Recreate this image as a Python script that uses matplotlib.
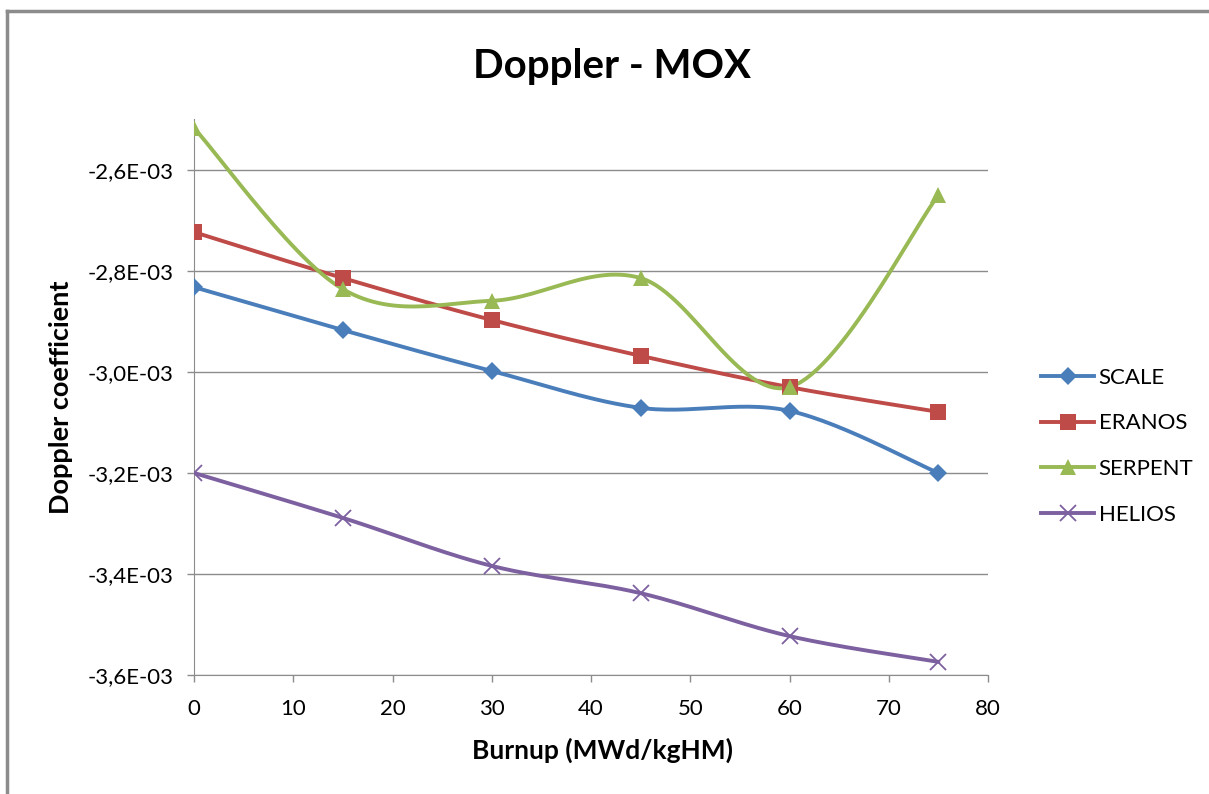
import matplotlib.pyplot as plt
import numpy as np
from matplotlib.lines import Line2D
from matplotlib.ticker import FuncFormatter

plt.rcParams['font.family'] = ['Lato', 'DejaVu Sans']

burnup = [0, 15, 30, 45, 60, 75]
scale = [-2.832e-3, -2.917e-3, -2.998e-3, -3.071e-3, -3.077e-3, -3.200e-3]
eranos = [-2.723e-3, -2.814e-3, -2.897e-3, -2.968e-3, -3.030e-3, -3.079e-3]
serpent = [-2.517e-3, -2.836e-3, -2.859e-3, -2.814e-3, -3.030e-3, -2.650e-3]
helios = [-3.200e-3, -3.289e-3, -3.384e-3, -3.438e-3, -3.523e-3, -3.574e-3]

names = ['SCALE', 'ERANOS', 'SERPENT', 'HELIOS']
colors = ['#4A7EBB', '#BE4B48', '#98B954', '#7D60A0']
markers = ['D', 's', '^', 'x']
msizes = [9.5, 11.5, 11.5, 11.5]


def smooth(x, y, n=30):
    # excel style smoothed line (bezier through the points)
    x = np.asarray(x, float)
    y = np.asarray(y, float)
    px, py = [], []
    m = len(x)
    for i in range(m - 1):
        x0, y0 = (x[i - 1], y[i - 1]) if i > 0 else (x[i], y[i])
        x3, y3 = (x[i + 2], y[i + 2]) if i + 2 < m else (x[i + 1], y[i + 1])
        c1x = x[i] + (x[i + 1] - x0) / 6
        c1y = y[i] + (y[i + 1] - y0) / 6
        c2x = x[i + 1] - (x3 - x[i]) / 6
        c2y = y[i + 1] - (y3 - y[i]) / 6
        t = np.linspace(0, 1, n)
        a = (1 - t) ** 3
        b = 3 * (1 - t) ** 2 * t
        c = 3 * (1 - t) * t ** 2
        d = t ** 3
        px.extend(a * x[i] + b * c1x + c * c2x + d * x[i + 1])
        py.extend(a * y[i] + b * c1y + c * c2y + d * y[i + 1])
    return px, py


fig = plt.figure(figsize=(12.09, 7.94), dpi=100)
ax = fig.add_axes([0.1605, 0.1499, 0.6567, 0.6996])

series = [scale, eranos, serpent, helios]
handles = []
for vals, name, col, mk, ms in zip(series, names, colors, markers, msizes):
    sx, sy = smooth(burnup, vals)
    ax.plot(sx, sy, color=col, lw=2.8, solid_capstyle='round', zorder=3)
    ax.plot(burnup, vals, ls='none', marker=mk, ms=ms, color=col,
            mew=1.3 if mk == 'x' else 0, zorder=4)
    handles.append(Line2D([], [], color=col, lw=2.8, marker=mk, ms=ms,
                          mew=1.3 if mk == 'x' else 0))

ax.set_xlim(0, 80)
ax.set_ylim(-3.6e-3, -2.5e-3)
ax.set_xticks(range(0, 81, 10))
ax.set_yticks(np.arange(-3.6e-3, -2.55e-3, 0.2e-3))
ax.yaxis.set_major_formatter(FuncFormatter(
    lambda v, p: ('%.1E' % v).replace('.', ',')))
ax.grid(axis='y', color='#8C8C8C', lw=1)
ax.set_axisbelow(True)
for s in ['top', 'right']:
    ax.spines[s].set_visible(False)
for s in ['left', 'bottom']:
    ax.spines[s].set_color('#8C8C8C')
ax.tick_params(colors='#8C8C8C', labelcolor='black', labelsize=16,
               length=5, width=1)
ax.tick_params(axis='x', pad=12)
ax.tick_params(axis='y', pad=10)

fig.suptitle('Doppler - MOX', x=0.506, y=0.94, fontsize=29, fontweight='bold')
ax.set_xlabel('Burnup (MWd/kgHM)', fontsize=19, fontweight='bold', labelpad=14)
ax.xaxis.set_label_coords(0.515, -0.113)
ax.set_ylabel('Doppler coefficient', fontsize=19.5, fontweight='bold', labelpad=10)

fig.legend(handles, names, loc='center left', bbox_to_anchor=(0.861, 0.438),
           frameon=False, fontsize=16, handlelength=2.4, handletextpad=0.2,
           labelspacing=1.15, borderpad=0, borderaxespad=0)

# chart border
fig.add_artist(Line2D([0.006, 1], [0.986, 0.986], color='#8C8C8C', lw=2.5))
fig.add_artist(Line2D([0.006, 0.006], [0, 0.986], color='#8C8C8C', lw=2.5))

fig.savefig('out.png', dpi=100)
